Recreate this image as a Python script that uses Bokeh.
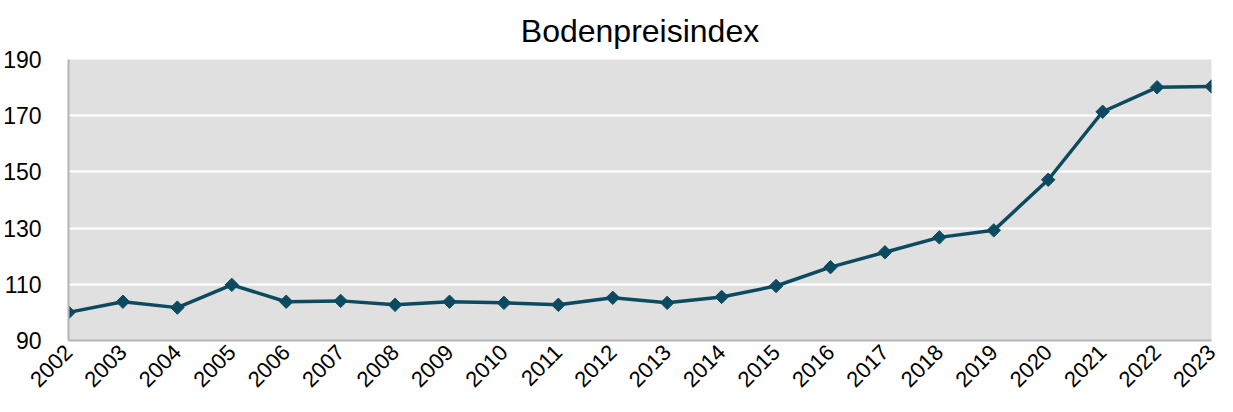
import math
from bokeh.plotting import figure
from bokeh.models import Range1d, FixedTicker
from bokeh.embed import file_html
from bokeh.resources import INLINE

years = [2002, 2003, 2004, 2005, 2006, 2007, 2008, 2009, 2010, 2011, 2012,
         2013, 2014, 2015, 2016, 2017, 2018, 2019, 2020, 2021, 2022, 2023]
index_values = [100.0, 103.8, 101.7, 109.8, 103.8, 104.1, 102.7, 103.8, 103.4, 102.7, 105.2,
                103.4, 105.5, 109.4, 116.1, 121.4, 126.7, 129.2, 147.2, 171.4, 180.1, 180.4]
y_ticks = [90, 110, 130, 150, 170, 190]
title_text = "Bodenpreisindex"

FONT = "Liberation Sans"
LINE_COLOR = "#0c4a60"

p = figure(width=1217, height=396, output_backend="svg", toolbar_location=None,
           x_range=Range1d(years[0], years[-1]), y_range=Range1d(y_ticks[0], y_ticks[-1]),
           min_border_left=60, min_border_right=6, min_border_top=40, min_border_bottom=40)

p.title.text = title_text
p.title.align = "center"
p.title.text_font = FONT
p.title.text_font_size = "32px"
p.title.text_font_style = "normal"
p.title.text_color = "#000000"
p.title.standoff = 21

p.background_fill_color = "#e0e0e0"
p.border_fill_color = "#ffffff"
p.outline_line_color = None

p.xgrid.grid_line_color = None
p.ygrid.grid_line_color = "#ffffff"
p.ygrid.grid_line_width = 2
p.ygrid.ticker = FixedTicker(ticks=y_ticks)

p.yaxis.ticker = FixedTicker(ticks=y_ticks)
p.xaxis.ticker = FixedTicker(ticks=years)
for ax in (p.xaxis, p.yaxis):
    ax.axis_line_color = "#b3b3b3"
    ax.axis_line_width = 2
    ax.major_tick_line_color = None
    ax.minor_tick_line_color = None
    ax.major_label_text_font = FONT
    ax.major_label_text_color = "#000000"
p.yaxis.major_label_text_font_size = "23px"
p.xaxis.major_label_text_font_size = "22px"
p.yaxis.major_label_standoff = 21
p.xaxis.major_label_standoff = 2
p.xaxis.major_label_orientation = math.pi / 4

p.line(years, index_values, line_color=LINE_COLOR, line_width=3.5)
p.scatter(years, index_values, marker="square", angle=math.pi / 4, size=9.5,
          fill_color=LINE_COLOR, line_color=LINE_COLOR)

open("out.html", "w").write(file_html(p, INLINE))
